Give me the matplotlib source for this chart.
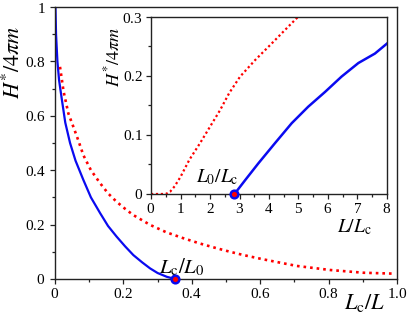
import matplotlib
matplotlib.use("Agg")
import matplotlib.pyplot as plt

plt.rcParams["font.family"] = "serif"
plt.rcParams["font.serif"] = ["Liberation Serif", "DejaVu Serif"]
plt.rcParams["mathtext.fontset"] = "stix"

# main panel: H*/4pi m against Lc/L
main_x_blue = [0.001, 0.003, 0.007, 0.012, 0.02, 0.03, 0.044, 0.06, 0.083, 0.105, 0.132,
               0.155, 0.18, 0.205, 0.229, 0.255, 0.278, 0.30, 0.327, 0.351]
main_y_blue = [1.02, 0.90, 0.80, 0.73, 0.66, 0.575, 0.50, 0.435, 0.364, 0.30, 0.242,
               0.195, 0.156, 0.12, 0.088, 0.061, 0.039, 0.022, 0.008, 0.0]
main_x_red = [0.0146, 0.025, 0.039, 0.055, 0.068, 0.083, 0.105, 0.132, 0.155, 0.18, 0.205,
              0.229, 0.278, 0.325, 0.375, 0.425, 0.473, 0.512, 0.551, 0.61, 0.707, 0.805,
              0.902, 0.995]
main_y_red = [0.78, 0.69, 0.609, 0.555, 0.51, 0.455, 0.40, 0.352, 0.315, 0.284, 0.258,
              0.235, 0.199, 0.172, 0.15, 0.13, 0.113, 0.10, 0.088, 0.072, 0.048, 0.033,
              0.023, 0.0195]

# inset: H*/4pi m against L/Lc
ins_x_blue = [2.83, 3.2, 3.64, 4.2, 4.77, 5.33, 5.9, 6.46, 7.03, 7.59, 8.0]
ins_y_blue = [0.0, 0.024, 0.052, 0.086, 0.12, 0.148, 0.173, 0.199, 0.222, 0.238, 0.255]
ins_x_red = [0, 0.5, 0.65, 0.8, 1.0, 1.3, 1.66, 2.0, 2.34, 2.65, 3.02, 3.53, 4.09, 4.66, 4.98]
ins_y_red = [0, 0, 0.004, 0.013, 0.029, 0.058, 0.086, 0.114, 0.142, 0.171, 0.199, 0.227,
             0.255, 0.284, 0.30]

main_xticks = [0, 0.2, 0.4, 0.6, 0.8, 1.0]
main_xlabels = ["0", "0.2", "0.4", "0.6", "0.8", "1.0"]
main_yticks = [0, 0.2, 0.4, 0.6, 0.8, 1.0]
main_ylabels = ["0", "0.2", "0.4", "0.6", "0.8", "1"]
ins_xticks = [0, 1, 2, 3, 4, 5, 6, 7, 8]
ins_yticks = [0, 0.1, 0.2, 0.3]
ins_ylabels = ["0", "0.1", "0.2", "0.3"]

blue = "#0a0af0"
red = "#ff0000"


def mt(labels):
    # tick labels through mathtext so they come out in the STIX (Times-like) face
    return [r"$\mathregular{%s}$" % s for s in labels]


def style_axes(ax):
    for s in ax.spines.values():
        s.set_linewidth(1.0)
        s.set_color("#222222")
    ax.tick_params(which="both", direction="out", top=False, right=False,
                   labelsize=11, color="#222222", width=0.9, pad=2)
    ax.tick_params(which="major", length=3.8)
    ax.tick_params(which="minor", length=2.5)


fig = plt.figure(figsize=(4.09, 3.16), dpi=100)
ax = fig.add_axes([0.1345, 0.1171, 0.8362, 0.8607])
ax.plot(main_x_blue, main_y_blue, color=blue, lw=1.6)
ax.plot(main_x_red, main_y_red, color=red, lw=1.9, linestyle=(0, (1, 1.5)))
ax.plot([main_x_blue[-1]], [main_y_blue[-1]], "o", ms=5.5, mfc=red, mec=blue, mew=1.8,
        clip_on=False, zorder=5)
ax.set_xlim(0, 1.0)
ax.set_ylim(0, 1.0)
ax.set_xticks(main_xticks, mt(main_xlabels))
ax.set_yticks(main_yticks, mt(main_ylabels))
ax.set_xticks([0.1, 0.3, 0.5, 0.7, 0.9], minor=True)
ax.set_yticks([0.1, 0.3, 0.5, 0.7, 0.9], minor=True)
style_axes(ax)
ax.tick_params(axis="y", pad=3)
ax.text(0.372, 0.044, r"$L_{\rm c}/L_0$", fontsize=15, ha="center", va="center")
ax.text(0.906, -0.088, r"$L_{\rm c}/L$", fontsize=16, ha="center", va="center",
        transform=ax.transAxes)
ax.text(-0.12, 0.798, r"$H^{*}/4\pi m$", fontsize=16, ha="center", va="center",
        rotation=90, transform=ax.transAxes)

ins = fig.add_axes([0.3692, 0.3861, 0.577, 0.5601])
ins.set_facecolor("white")
ins.plot(ins_x_blue, ins_y_blue, color=blue, lw=1.8)
ins.plot(ins_x_red, ins_y_red, color=red, lw=1.6, linestyle=(0, (1, 1.2)))
ins.plot([ins_x_blue[0]], [ins_y_blue[0]], "o", ms=5.5, mfc=red, mec=blue, mew=1.8,
         clip_on=False, zorder=5)
ins.set_xlim(0, 8)
ins.set_ylim(0, 0.3)
ins.set_xticks(ins_xticks, mt([str(t) for t in ins_xticks]))
ins.set_yticks(ins_yticks, mt(ins_ylabels))
ins.set_xticks([i + 0.5 for i in range(8)], minor=True)
ins.set_yticks([0.05, 0.15, 0.25], minor=True)
style_axes(ins)
ins.text(2.25, 0.028, r"$L_0/L_{\rm c}$", fontsize=14, ha="center", va="center")
ins.text(0.86, -0.19, r"$L/L_{\rm c}$", fontsize=14, ha="center", va="center",
         transform=ins.transAxes)
ins.text(-0.161, 0.774, r"$H^{*}/4\pi m$", fontsize=13, ha="center", va="center",
         rotation=90, transform=ins.transAxes)

fig.savefig("out.png", dpi=100)
